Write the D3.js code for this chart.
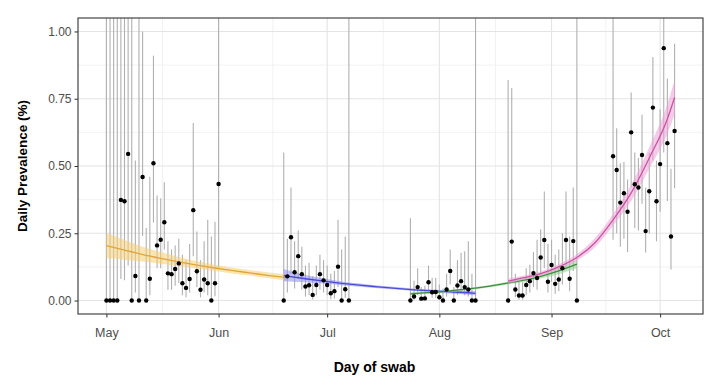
<!DOCTYPE html>
<html><head><meta charset="utf-8">
<script src="https://cdn.jsdelivr.net/npm/d3@7"></script>
<style>
html,body{margin:0;padding:0;background:#fff;}
svg{display:block;font-family:"Liberation Sans",Arial,Helvetica,sans-serif;}
</style></head>
<body><svg id="chart" width="720" height="387"></svg>
<script>
// ---- data (day offsets from 1 May 2020) ----
const round1Days = d3.range(0, 32);
const round1Prev = [0,0,0,0,0.374,0.369,0.545,0,0.091,0,0.459,0,0.081,0.51,0.205,0.226,0.291,0.101,0.098,0.117,0.138,0.064,0.047,0.08,0.336,0.109,0.04,0.078,0.064,0,0.064,0.433];
const round1Lo   = [0,0,0,0,0.08,0.075,0.13,0,0.03,0,0.24,0,0.02,0.29,0.12,0.12,0.19,0.04,0.04,0.055,0.065,0.02,0.012,0.03,0.165,0.05,0.012,0.03,0.02,0,0.016,0.12];
const round1Hi   = [1.2,1.2,1.2,1.2,1.2,1.2,1.2,1.2,0.52,1.2,1.0,0.27,0.46,0.91,0.39,0.38,0.44,0.22,0.19,0.205,0.23,0.17,0.15,0.21,0.66,0.257,0.15,0.22,0.3,0.238,0.293,1.2];

const round2Days = d3.range(49, 68);
const round2Prev = [0,0.09,0.235,0.105,0.165,0.098,0.052,0.057,0.021,0.058,0.098,0.075,0.058,0.027,0.035,0.126,0,0.042,0];
const round2Lo   = [0,0.03,0.1,0.045,0.08,0.04,0.015,0.02,0.004,0.02,0.04,0.03,0.02,0.005,0.008,0.05,0,0.01,0];
const round2Hi   = [0.55,0.23,0.42,0.22,0.26,0.2,0.13,0.14,0.09,0.13,0.17,0.15,0.13,0.1,0.11,0.3,0.19,0.238,1.2];

const round3Days = d3.range(84, 103);
const round3Prev = [0,0.015,0.05,0.007,0.008,0.068,0.031,0.032,0.012,0,0.041,0.11,0,0.056,0.072,0.05,0.041,0,0];
const round3Lo   = [0,0.003,0.02,0.001,0.001,0.03,0.01,0.01,0.002,0,0.015,0.06,0,0.02,0.03,0.02,0.015,0,0];
const round3Hi   = [0.306,0.074,0.12,0.05,0.055,0.13,0.085,0.085,0.06,0.045,0.1,0.19,0.05,0.15,0.178,0.183,0.22,0.1,1.2];

const round4Days = d3.range(111, 131);
const round4Prev = [0,0.219,0.041,0.019,0.019,0.058,0.072,0.102,0.084,0.16,0.225,0.07,0.132,0.062,0.078,0.12,0.225,0.081,0.221,0];
const round4Lo   = [0,0.07,0.012,0.003,0.003,0.02,0.03,0.05,0.04,0.09,0.12,0.03,0.07,0.025,0.035,0.06,0.12,0.035,0.11,0];
const round4Hi   = [0.82,0.79,0.1,0.07,0.07,0.12,0.133,0.18,0.226,0.265,0.405,0.21,0.226,0.17,0.19,0.25,0.405,0.238,0.42,1.2];

const round5Days = d3.range(140, 158);
const round5Prev = [0.536,0.485,0.364,0.399,0.33,0.625,0.432,0.42,0.541,0.258,0.406,0.717,0.369,0.507,0.938,0.585,0.238,0.63];
const round5Lo   = [0.226,0.25,0.2,0.23,0.18,0.42,0.27,0.26,0.36,0.179,0.25,0.52,0.22,0.33,0.55,0.37,0.115,0.417];
const round5Hi   = [1.2,0.64,0.51,0.515,0.45,0.773,0.55,0.53,0.69,0.42,0.55,0.905,0.52,0.71,1.2,0.825,0.49,0.954];

// fitted trends
const fitADays = [0,5,10,15,20,25,30,35,40,45,50];
const fitAMid  = [0.204,0.187,0.171,0.157,0.144,0.132,0.121,0.111,0.102,0.093,0.085];
const fitALo   = [0.157,0.152,0.145,0.137,0.128,0.119,0.11,0.1,0.092,0.083,0.074];
const fitAHi   = [0.252,0.225,0.2,0.18,0.162,0.146,0.133,0.122,0.113,0.104,0.097];

const fitBDays = [49,55,60,65,70,75,80,85,90,95,100,102];
const fitBMid  = [0.093,0.081,0.072,0.064,0.057,0.051,0.045,0.04,0.036,0.032,0.029,0.027];
const fitBLo   = [0.072,0.068,0.063,0.057,0.051,0.046,0.041,0.036,0.031,0.026,0.022,0.02];
const fitBHi   = [0.117,0.095,0.082,0.071,0.063,0.056,0.05,0.045,0.041,0.038,0.036,0.035];

const fitCDays = [84,90,95,100,105,110,115,120,125,130];
const fitCMid  = [0.025,0.03,0.036,0.043,0.052,0.063,0.075,0.09,0.11,0.135];
const fitCLo   = [0.02,0.026,0.032,0.039,0.048,0.058,0.069,0.082,0.098,0.12];
const fitCHi   = [0.031,0.035,0.04,0.047,0.056,0.068,0.081,0.098,0.122,0.152];

const fitDDays = [111,115,120,125,130,135,140,145,150,155,157];
const fitDMid  = [0.072,0.084,0.1,0.125,0.16,0.215,0.3,0.4,0.53,0.675,0.755];
const fitDLo   = [0.062,0.076,0.092,0.115,0.148,0.198,0.278,0.37,0.49,0.62,0.69];
const fitDHi   = [0.082,0.092,0.108,0.135,0.172,0.232,0.322,0.43,0.57,0.73,0.82];

const yTicks = [0, 0.25, 0.5, 0.75, 1.0];
const xTitle = "Day of swab";
const yTitle = "Daily Prevalence (%)";

// ---- setup ----
const DAY = 864e5;
const start = Date.UTC(2020, 4, 1);
const toDate = d => new Date(start + d * DAY);

const P = {l: 78, r: 703, t: 18, b: 314};
const svg = d3.select("#chart");

const x = d3.scaleUtc().domain([toDate(-7.85), toDate(164.85)]).range([P.l, P.r]);
const y = d3.scaleLinear().domain([-0.05, 1.05]).range([P.b, P.t]);

svg.append("defs").append("clipPath").attr("id","clip")
  .append("rect").attr("x",P.l).attr("y",P.t).attr("width",P.r-P.l).attr("height",P.b-P.t);

svg.append("rect").attr("x",P.l).attr("y",P.t).attr("width",P.r-P.l).attr("height",P.b-P.t).attr("fill","#fff");

// grid
const g = svg.append("g").attr("clip-path","url(#clip)");
const xMajor = x.ticks(d3.utcMonth.every(1));
const xMinor = xMajor.slice(0,-1).map((d,i)=> new Date((+d + +xMajor[i+1])/2));
const yMinor = [0.125,0.375,0.625,0.875];
g.selectAll(".ymin").data(yMinor).join("line")
  .attr("x1",P.l).attr("x2",P.r).attr("y1",d=>y(d)).attr("y2",d=>y(d))
  .attr("stroke","#efefef").attr("stroke-width",0.8);
g.selectAll(".xmin").data(xMinor).join("line")
  .attr("y1",P.t).attr("y2",P.b).attr("x1",d=>x(d)).attr("x2",d=>x(d))
  .attr("stroke","#efefef").attr("stroke-width",0.8);
g.selectAll(".ymaj").data(yTicks).join("line")
  .attr("x1",P.l).attr("x2",P.r).attr("y1",d=>y(d)).attr("y2",d=>y(d))
  .attr("stroke","#e4e4e4").attr("stroke-width",1.1);
g.selectAll(".xmaj").data(xMajor).join("line")
  .attr("y1",P.t).attr("y2",P.b).attr("x1",d=>x(d)).attr("x2",d=>x(d))
  .attr("stroke","#e4e4e4").attr("stroke-width",1.1);

// observations
const rounds = [
  [round1Days, round1Prev, round1Lo, round1Hi],
  [round2Days, round2Prev, round2Lo, round2Hi],
  [round3Days, round3Prev, round3Lo, round3Hi],
  [round4Days, round4Prev, round4Lo, round4Hi],
  [round5Days, round5Prev, round5Lo, round5Hi]
];
const obs = [];
rounds.forEach(([ds, pv, lo, hi]) => ds.forEach((d,i) => obs.push({d, v: pv[i], lo: lo[i], hi: hi[i]})));

// error bars
g.selectAll(".eb").data(obs).join("line")
  .attr("x1",o=>x(toDate(o.d))).attr("x2",o=>x(toDate(o.d)))
  .attr("y1",o=>y(o.lo)).attr("y2",o=>y(o.hi))
  .attr("stroke","#b0b0b0").attr("stroke-width",1.1);

// fits
const fits = [
  {days: fitADays, mid: fitAMid, lo: fitALo, hi: fitAHi, line: "#e0a53c", fill: "#f6cf73"},
  {days: fitBDays, mid: fitBMid, lo: fitBLo, hi: fitBHi, line: "#4a4ad8", fill: "#8c8cf0"},
  {days: fitCDays, mid: fitCMid, lo: fitCLo, hi: fitCHi, line: "#3d8f3d", fill: "#8fcf8f"},
  {days: fitDDays, mid: fitDMid, lo: fitDLo, hi: fitDHi, line: "#c8559f", fill: "#eea0d8"}
];
fits.forEach(f => {
  const pts = f.days.map((d,i)=>({d, m: f.mid[i], lo: f.lo[i], hi: f.hi[i]}));
  const area = d3.area().curve(d3.curveMonotoneX)
    .x(p=>x(toDate(p.d))).y0(p=>y(p.lo)).y1(p=>y(p.hi));
  const line = d3.line().curve(d3.curveMonotoneX)
    .x(p=>x(toDate(p.d))).y(p=>y(p.m));
  g.append("path").datum(pts).attr("d",area).attr("fill",f.fill).attr("opacity",0.55);
  g.append("path").datum(pts).attr("d",line).attr("fill","none").attr("stroke",f.line).attr("stroke-width",1.3);
});

// points
g.selectAll(".pt").data(obs).join("circle")
  .attr("cx",o=>x(toDate(o.d))).attr("cy",o=>y(o.v)).attr("r",2.2).attr("fill","#000");

// panel border
svg.append("rect").attr("x",P.l).attr("y",P.t).attr("width",P.r-P.l).attr("height",P.b-P.t)
  .attr("fill","none").attr("stroke","#333").attr("stroke-width",1.1);

// axes
const xAxis = d3.axisBottom(x).tickValues(xMajor).tickFormat(d3.utcFormat("%b")).tickSize(3.5).tickPadding(5);
const xa = svg.append("g").attr("transform",`translate(0,${P.b})`).call(xAxis);
xa.select(".domain").remove();
xa.selectAll("line").attr("stroke","#333");
xa.selectAll("text").attr("fill","#4d4d4d").style("font-size","12.5px").attr("dy","1.15em");

const yAxis = d3.axisLeft(y).tickValues(yTicks).tickFormat(d3.format(".2f")).tickSize(3.5).tickPadding(3);
const ya = svg.append("g").attr("transform",`translate(${P.l},0)`).call(yAxis);
ya.select(".domain").remove();
ya.selectAll("line").attr("stroke","#333");
ya.selectAll("text").attr("fill","#4d4d4d").style("font-size","12px");

// titles
svg.append("text").attr("x",374.5).attr("y",372).attr("text-anchor","middle")
  .style("font-size","14px").style("font-weight","bold").attr("fill","#000").text(xTitle);
svg.append("text").attr("transform","translate(27,166) rotate(-90)").attr("text-anchor","middle")
  .style("font-size","13.5px").style("font-weight","bold").attr("fill","#000").text(yTitle);
</script></body></html>
